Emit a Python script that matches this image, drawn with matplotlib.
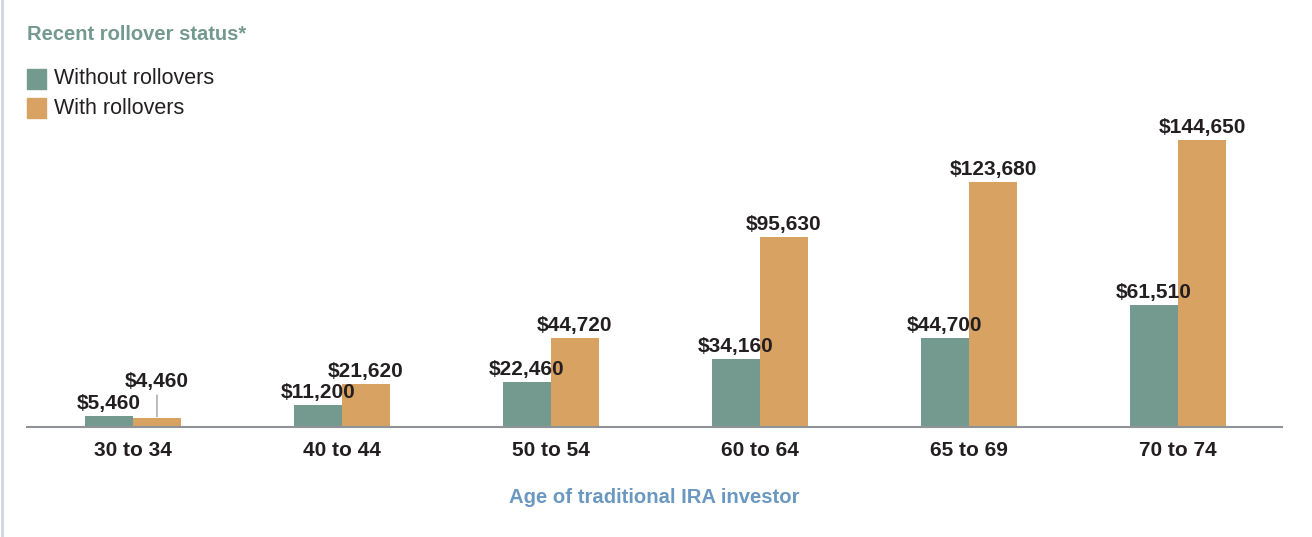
import matplotlib
matplotlib.use('Agg')
import matplotlib.pyplot as plt
from matplotlib.patches import Rectangle
from matplotlib.lines import Line2D
import numpy as np

plt.rcParams['font.family'] = ['Liberation Sans', 'DejaVu Sans']

# ------------------------------------------------------------
# data
# ------------------------------------------------------------
age_groups = ['30 to 34', '40 to 44', '50 to 54', '60 to 64', '65 to 69', '70 to 74']
without_rollovers = [5460, 11200, 22460, 34160, 44700, 61510]
with_rollovers = [4460, 21620, 44720, 95630, 123680, 144650]
series_names = ['Without rollovers', 'With rollovers']

TEAL = '#74998f'
ORANGE = '#d8a263'
INK = '#231f20'
TITLE_TEAL = '#74998f'
AXIS_BLUE = '#6b98c0'

W, H = 1312, 537


def fx(px):
    return px / W


def fy(py):
    return 1 - py / H


fig = plt.figure(figsize=(W / 100, H / 100), dpi=100)
fig.patch.set_facecolor('white')

# axes: baseline at y=427 px, from x=27 to 1282 px
ax_top = 40
ax = fig.add_axes([fx(27), fy(427), fx(1282) - fx(27), (427 - ax_top) / H])

x = np.arange(len(age_groups))
bw = 0.2297
ax.bar(x - bw / 2, without_rollovers, bw, color=TEAL, zorder=2)
ax.bar(x + bw / 2, with_rollovers, bw, color=ORANGE, zorder=2)

ymax = 144650 * (427 - ax_top) / (427 - 140)
ax.set_ylim(0, ymax)
ax.set_xlim(-0.507, 5.498)

label_kw = dict(ha='center', va='baseline', fontsize=15, fontweight='bold', color=INK, zorder=3)
for xi, v in zip(x, without_rollovers):
    ax.annotate(f'${v:,}', (xi - bw / 2, v), xytext=(0, 5), textcoords='offset points', **label_kw)
for xi, v in zip(x, with_rollovers):
    if v < 10000:
        # small bar: raised label with a leader line
        ax.annotate(f'${v:,}', (xi + bw / 2, v), xytext=(0, 22.5), textcoords='offset points',
                    arrowprops=dict(arrowstyle='-', color='#a0a0a0', lw=1, shrinkA=1, shrinkB=1),
                    **label_kw)
    else:
        ax.annotate(f'${v:,}', (xi + bw / 2, v), xytext=(0, 5), textcoords='offset points', **label_kw)

ax.set_xticks(x)
ax.set_xticklabels(age_groups, fontsize=15, fontweight='bold', color=INK)
ax.tick_params(axis='x', length=0, pad=10)
ax.set_yticks([])
for s in ['top', 'left', 'right']:
    ax.spines[s].set_visible(False)
ax.spines['bottom'].set_color('#8f9296')
ax.spines['bottom'].set_linewidth(1.5)
ax.set_facecolor('none')

ax.set_xlabel('Age of traditional IRA investor', fontsize=14.6, fontweight='bold',
              color=AXIS_BLUE, labelpad=20)

# title and legend
fig.text(fx(27), fy(35), 'Recent rollover status*', fontsize=14.5, fontweight='bold',
         color=TITLE_TEAL, ha='left', va='center')
for i, (name, col) in enumerate(zip(series_names, [TEAL, ORANGE])):
    yc = 79 + 29 * i
    fig.patches.append(Rectangle((fx(27), fy(yc + 9.5)), fx(19), 19 / H,
                                 transform=fig.transFigure, color=col, figure=fig))
    fig.text(fx(54), fy(yc), name, fontsize=15.5, color=INK, ha='left', va='center')

# left border
fig.lines.append(Line2D([fx(1.5), fx(1.5)], [0, 1], transform=fig.transFigure,
                        color='#d3d6dd', lw=2, figure=fig))

fig.savefig('out.png', dpi=100, facecolor='white')
